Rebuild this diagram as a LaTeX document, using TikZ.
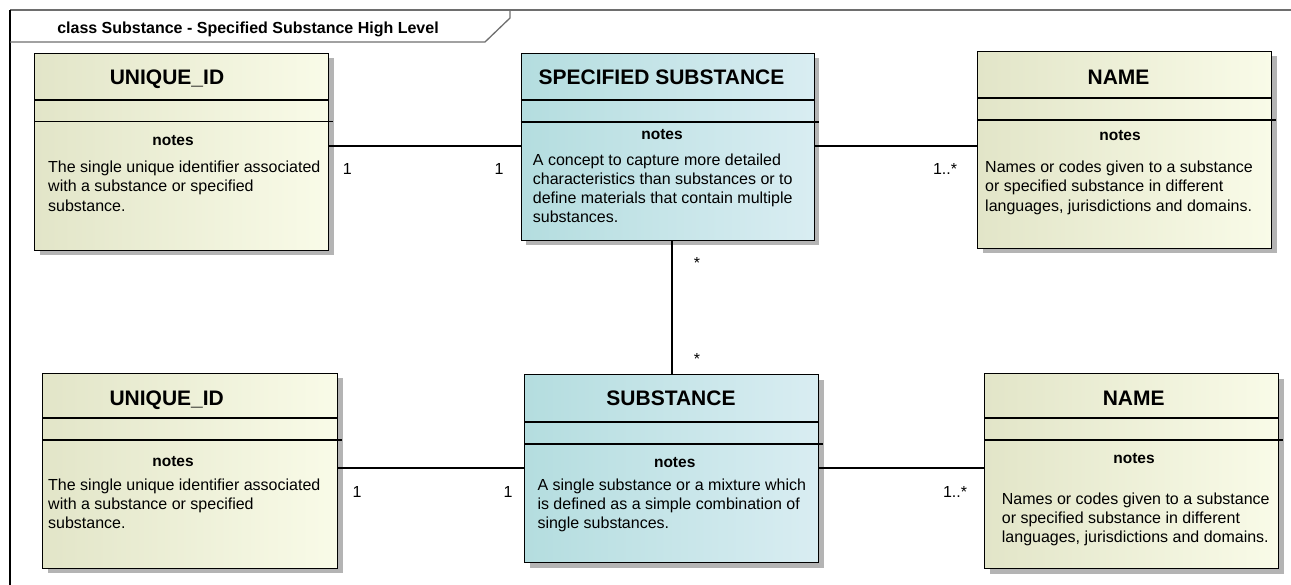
\documentclass[tikz,border=0pt]{standalone}
\usepackage{fontspec}
\setmainfont{Liberation Sans}
\usetikzlibrary{shadows}

\definecolor{frameGray}{HTML}{6E6E6E}
\definecolor{ylLeft}{HTML}{E2E5C8}
\definecolor{ylRight}{HTML}{F9FBE8}
\definecolor{cyLeft}{HTML}{B4DDDF}
\definecolor{cyRight}{HTML}{D9EDF2}
\definecolor{shadowGray}{HTML}{B4B4B4}

\tikzset{
  classbox/.style={draw=black, line width=1.1pt, inner sep=0pt, anchor=north west,
    drop shadow={shadow xshift=5pt, shadow yshift=-5pt, fill=shadowGray, opacity=1}},
  yellowbox/.style={classbox, left color=ylLeft, right color=ylRight},
  cyanbox/.style={classbox, left color=cyLeft, right color=cyRight},
  classtitle/.style={anchor=base, inner sep=0pt, font=\fontsize{21}{24}\selectfont\bfseries},
  notehead/.style={anchor=base, inner sep=0pt, font=\fontsize{15.5}{18}\selectfont\bfseries},
  notebody/.style={anchor=north west, inner sep=0pt, align=left, font=\fontsize{16}{19.2}\selectfont},
  mult/.style={anchor=base, inner sep=0pt, font=\fontsize{16}{19}\selectfont},
  sepline/.style={line width=1.1pt},
  assoc/.style={line width=1.1pt},
  framecol/.style={line width=1.3pt},
}

% two compartment separators of a class box; the lower one runs a little past the border
\newcommand\classsections[3]{%
  \draw[sepline] ([yshift=-#2pt]#1.north west) -- ([yshift=-#2pt]#1.north east);
  \draw[sepline] ([yshift=-#3pt]#1.north west) -- ([yshift=-#3pt,xshift=4pt]#1.north east);
}

\begin{document}
\begin{tikzpicture}[x=1pt,y=-1pt]
\useasboundingbox (0,0) rectangle (1291,585);

% diagram frame and its name tab
\draw[framecol, frameGray] (10,10) -- (1291,10);
\draw[framecol, black] (10,10) -- (10,585);
\draw[framecol, frameGray] (10,42) -- (485,42) -- (510,18) -- (510,10);
\node[anchor=base, inner sep=0pt, font=\fontsize{16}{19}\selectfont\bfseries] (frametitle) at (248,33.3)
  {class Substance - Specified Substance High Level};

% class boxes
\node[yellowbox, minimum width=294pt, minimum height=197pt] (uidA) at (34,52.7) {};
\node[cyanbox,   minimum width=293pt, minimum height=187pt] (spec) at (520.7,52.7) {};
\node[yellowbox, minimum width=294pt, minimum height=197pt] (nameA) at (977,50.7) {};
\node[yellowbox, minimum width=295pt, minimum height=195pt] (uidB) at (42,372.7) {};
\node[cyanbox,   minimum width=294pt, minimum height=188pt] (subst) at (524,374) {};
\node[yellowbox, minimum width=294pt, minimum height=195pt] (nameB) at (984,373) {};

\classsections{uidA}{47.3}{69}
\classsections{spec}{47.3}{69.3}
\classsections{nameA}{47.3}{69.3}
\classsections{uidB}{45.3}{67.3}
\classsections{subst}{48}{70}
\classsections{nameB}{45}{67}

% class names
\node[classtitle] (uidA-t)  at (167,85)     {UNIQUE\_ID};
\node[classtitle] (spec-t)  at (661.5,84.5) {SPECIFIED SUBSTANCE};
\node[classtitle] (nameA-t) at (1118.5,84.5) {NAME};
\node[classtitle] (uidB-t)  at (166.7,405)  {UNIQUE\_ID};
\node[classtitle] (subst-t) at (671,405)    {SUBSTANCE};
\node[classtitle] (nameB-t) at (1133.7,405.7) {NAME};

% notes headings
\node[notehead] (uidA-n)  at (173,146)    {notes};
\node[notehead] (spec-n)  at (662,140)    {notes};
\node[notehead] (nameA-n) at (1120,140.7) {notes};
\node[notehead] (uidB-n)  at (173,466.7)  {notes};
\node[notehead] (subst-n) at (674.7,467)  {notes};
\node[notehead] (nameB-n) at (1134,463)   {notes};

% notes texts
\node[notebody] (uidA-b) at (48,161)
  {The single unique identifier associated\\with a substance or specified\\substance.};
\node[notebody] (spec-b) at (532.7,153.3)
  {A concept to capture more detailed\\characteristics than substances or to\\define materials that contain multiple\\substances.};
\node[notebody] (nameA-b) at (985,161)
  {Names or codes given to a substance\\or specified substance in different\\languages, jurisdictions and domains.};
\node[notebody] (uidB-b) at (48,478.3)
  {The single unique identifier associated\\with a substance or specified\\substance.};
\node[notebody] (subst-b) at (537.3,478.3)
  {A single substance or a mixture which\\is defined as a simple combination of\\single substances.};
\node[notebody] (nameB-b) at (1001.7,492.3)
  {Names or codes given to a substance\\or specified substance in different\\languages, jurisdictions and domains.};

% associations
\coordinate (topRow) at (0,146);
\coordinate (botRow) at (0,468);
\coordinate (midCol) at (672,0);
\draw[assoc] (uidA.east |- topRow) -- (spec.west |- topRow);
\draw[assoc] (spec.east |- topRow) -- (nameA.west |- topRow);
\draw[assoc] (uidB.east |- botRow) -- (subst.west |- botRow);
\draw[assoc] (subst.east |- botRow) -- (nameB.west |- botRow);
\draw[assoc] (spec.south -| midCol) -- (subst.north -| midCol);

% multiplicities
\node[mult] (m1) at (347.3,174.3) {1};
\node[mult] (m2) at (499,174.3)   {1};
\node[mult] (m3) at (945,174.3)   {1..*};
\node[mult] (m4) at (697,269)     {*};
\node[mult] (m5) at (697,365)     {*};
\node[mult] (m6) at (357,497)     {1};
\node[mult] (m7) at (508,497)     {1};
\node[mult] (m8) at (955,497)     {1..*};
\end{tikzpicture}
\end{document}
